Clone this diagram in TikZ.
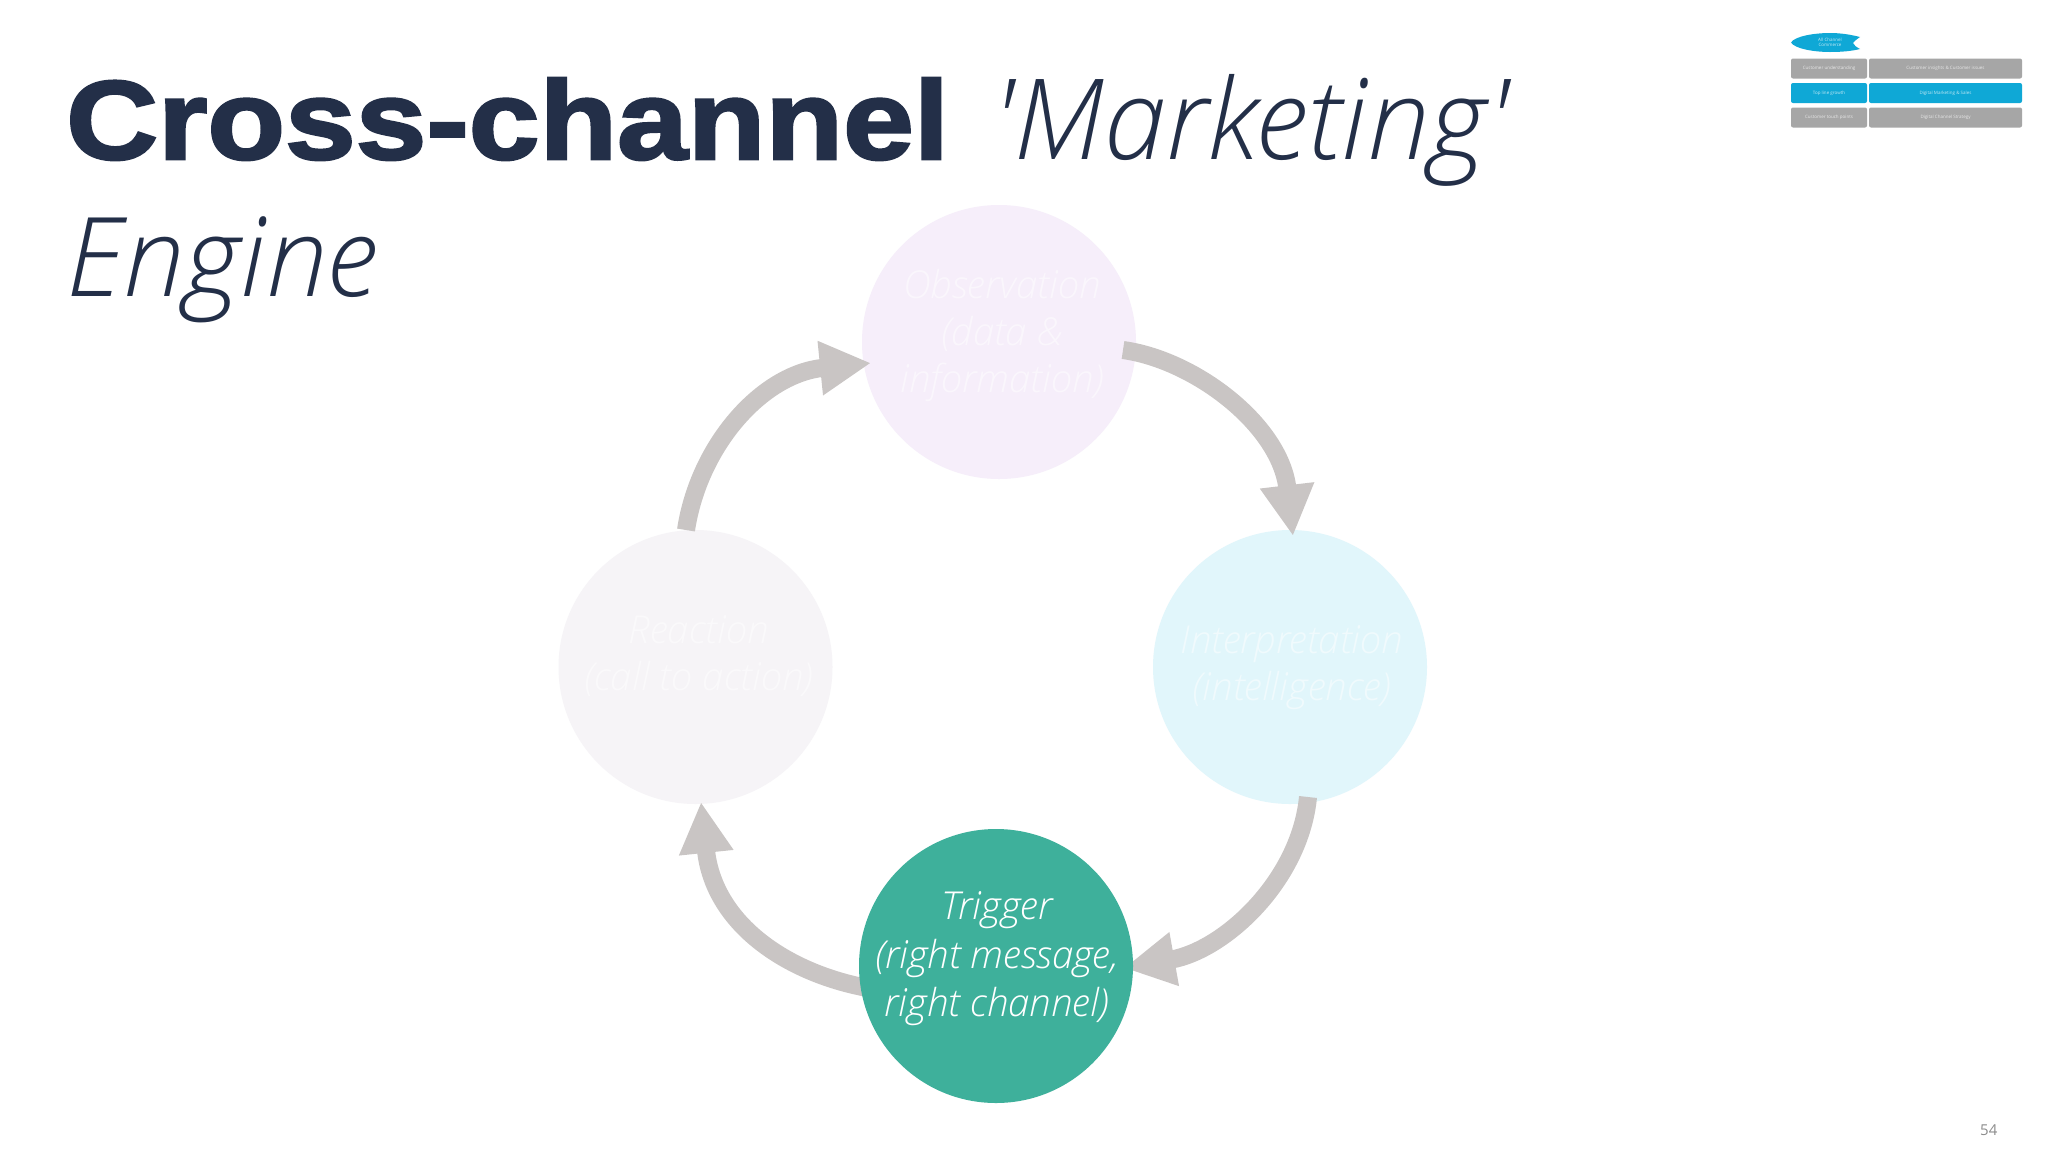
\documentclass[tikz,border=0pt]{standalone}
\usepackage{fontspec}
\usetikzlibrary{arrows.meta}
\setmainfont{Open Sans}
\newfontfamily\lightfont{Open Sans Light}[ItalicFont={Open Sans Light Italic}]
\newfontfamily\heavyfont{Liberation Sans}[BoldFont={Liberation Sans Bold},BoldFeatures={FakeStretch=1.135,FakeBold=2.4}]
\definecolor{navy}{HTML}{232F48}
\definecolor{arrowgrey}{HTML}{C9C5C4}
\definecolor{obsfill}{HTML}{F6EEFA}
\definecolor{intfill}{HTML}{E1F6FB}
\definecolor{reafill}{HTML}{F6F4F7}
\definecolor{trigfill}{HTML}{3EB09B}
\definecolor{navblue}{HTML}{0FA8D6}
\definecolor{navgrey}{HTML}{A6A6A6}
\pgfdeclarelayer{front}
\pgfsetlayers{main,front}
\tikzset{
  x=1pt,y=-1pt,
  flowcircle/.style={circle,minimum size=274pt,inner sep=0pt},
  flowarrow/.style={draw=arrowgrey,line width=18pt,-{Triangle[length=51pt,width=51pt]}},
  titletext/.style={anchor=base west,text=navy,inner sep=0pt},
  fadedtext/.style={align=center,inner sep=0pt,text=white,text opacity=.5,font=\lightfont\itshape\fontsize{38.5}{47}\selectfont},
  brighttext/.style={align=center,inner sep=0pt,text=white,font=\lightfont\itshape\fontsize{38.5}{48.5}\selectfont},
  navbox/.style={rounded corners=2pt,minimum height=20pt,inner sep=0pt,text=white,text opacity=.75,font=\fontsize{4.5}{5.5}\selectfont,align=center},
}
\begin{document}
\begin{tikzpicture}
\useasboundingbox (0,0) rectangle (2048,1152);
\fill[white] (0,0) rectangle (2048,1152);
% title
\node[titletext] (t1) at (66,159) {\heavyfont\bfseries\fontsize{112}{112}\selectfont Cross-channel};
\node[titletext] (t2) at (991,159) {\lightfont\itshape\fontsize{112}{112}\selectfont 'Marketing'};
\node[titletext] (t3) at (66,296) {\lightfont\itshape\fontsize{110}{110}\selectfont Engine};
% circles
\node[flowcircle,fill=obsfill] (obs) at (999,342) {};
\node[flowcircle,fill=intfill] (int) at (1290,667) {};
\node[flowcircle,fill=reafill] (rea) at (695.5,667) {};
\begin{pgfonlayer}{front}
\node[flowcircle,fill=trigfill] (trig) at (996,966) {};
\node[brighttext] (trigtext) at (997,959) {Trigger\\(right message,\\right channel)};
\end{pgfonlayer}
\node[fadedtext] (obstext) at (1002,335) {Observation\\(data \&\\information)};
\node[fadedtext] (inttext) at (1292,668) {Interpretation\\(intelligence)};
\node[fadedtext] (reatext) at (699,656) {Reaction\\(call to action)};
% arrows
\draw[flowarrow] ([shift={(124,8)}]obs.center) .. controls (1195,360) and (1280,425) .. ([shift={(3,-131)}]int.center);
\draw[flowarrow] ([shift={(18,130)}]int.center) .. controls (1300,880) and (1225,950) .. ([shift={(128,2)}]trig.center);
\draw[flowarrow] ([shift={(-116,24)}]trig.center) .. controls (795,978) and (714,928) .. ([shift={(5.5,135)}]rea.center);
\draw[flowarrow] ([shift={(-9.5,-137)}]rea.center) .. controls (699,445) and (762,374) .. ([shift={(-128,21)}]obs.center);
% navigator
\path[fill=navblue] (1791,42.5) .. controls (1795,36) and (1815,33) .. (1830,33) .. controls (1842,33) and (1852,35) .. (1860,37)
  .. controls (1856,40) and (1854,41) .. (1853,43) .. controls (1854,45) and (1856,47) .. (1860,49)
  .. controls (1852,51) and (1842,52) .. (1830,52) .. controls (1815,52) and (1795,49) .. (1791,42.5) -- cycle;
\node[inner sep=0pt,text=white,text opacity=.75,align=center,font=\fontsize{4.5}{5.5}\selectfont] (navtop) at (1830,42.5) {All Channel\\Commerce};
\node[navbox,fill=navgrey,minimum width=76pt] (n1) at (1829,68.5) {Customer understanding};
\node[navbox,fill=navgrey,minimum width=153pt] (n2) at (1945.5,68.5) {Customer insights \& Customer issues};
\node[navbox,fill=navblue,minimum width=76pt] (n3) at (1829,93) {Top line growth};
\node[navbox,fill=navblue,minimum width=153pt] (n4) at (1945.5,93) {Digital Marketing \& Sales};
\node[navbox,fill=navgrey,minimum width=76pt] (n5) at (1829,117.5) {Customer touch points};
\node[navbox,fill=navgrey,minimum width=153pt] (n6) at (1945.5,117.5) {Digital Channel Strategy};
% page number
\node[anchor=base west,inner sep=0pt,text=black!45,font=\fontsize{15}{15}\selectfont] (pg) at (1980,1135) {54};
\end{tikzpicture}
\end{document}
